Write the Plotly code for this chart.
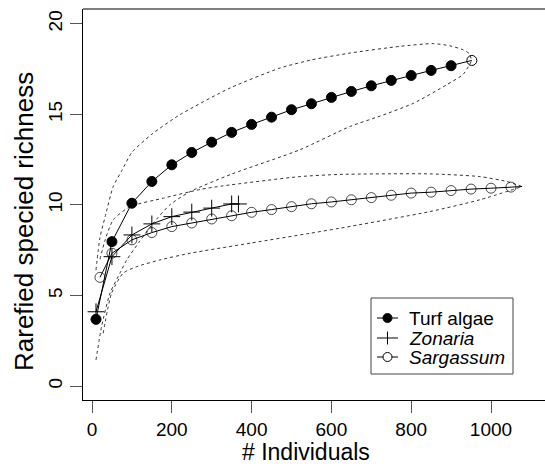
import plotly.graph_objects as go

# ---------------- data ----------------
turf_x = [10, 50, 100, 150, 200, 250, 300, 350, 400, 450, 500, 550, 600, 650, 700, 750, 800, 850, 900, 952]
turf_y = [3.68, 7.97, 10.09, 11.29, 12.21, 12.89, 13.46, 14.0, 14.44, 14.84, 15.25, 15.58, 15.93, 16.26,
          16.57, 16.87, 17.14, 17.42, 17.68, 17.97]

zon_x = [10, 50, 100, 150, 200, 250, 300, 350, 367]
zon_y = [4.1, 7.14, 8.34, 8.95, 9.35, 9.6, 9.82, 10.05, 10.05]

sar_x = [20, 50, 100, 150, 200, 250, 300, 350, 400, 450, 500, 550, 600, 650, 700, 750, 800, 850, 900,
         950, 1000, 1050, 1078]
sar_y = [6.0, 7.33, 8.07, 8.47, 8.8, 9.0, 9.22, 9.4, 9.59, 9.74, 9.9, 10.06, 10.16, 10.28, 10.4, 10.53,
         10.65, 10.7, 10.79, 10.87, 10.92, 10.98, 11.01]

turf_up_x = [10, 20, 33, 53, 75, 100, 150, 220, 346, 471, 550, 647, 772, 855, 897, 930, 945, 952]
turf_up_y = [6.4, 8.2, 9.35, 11.0, 11.9, 12.9, 13.9, 14.97, 16.45, 17.55, 18.0, 18.38, 18.75, 18.9, 18.78,
             18.56, 18.35, 17.97]
turf_lo_x = [10, 24, 45, 70, 87, 120, 150, 195, 246, 350, 521, 647, 722, 805, 889, 930, 952]
turf_lo_y = [1.44, 3.28, 5.12, 6.23, 6.96, 8.0, 8.9, 10.0, 10.73, 11.7, 13.04, 14.33, 14.9, 15.6, 16.63,
             17.2, 17.97]

sar_up_x = [20, 33, 53, 95, 179, 271, 329, 521, 621, 847, 972, 1039, 1078]
sar_up_y = [7.0, 8.07, 9.17, 9.9, 10.37, 10.85, 11.05, 11.56, 11.68, 11.71, 11.56, 11.29, 11.01]
sar_lo_x = [28, 49, 78, 112, 170, 246, 400, 546, 621, 847, 972, 1078]
sar_lo_y = [2.91, 5.12, 6.23, 6.59, 6.96, 7.33, 7.9, 8.43, 8.71, 9.63, 10.28, 11.01]

x_ticks = [0, 200, 400, 600, 800, 1000]
y_ticks = [0, 5, 10, 15, 20]
legend_labels = ["Turf algae", "<i>Zonaria</i>", "<i>Sargassum</i>"]
x_title = "# Individuals"
y_title = "Rarefied specied richness"

# ---------------- layout geometry ----------------
W, H = 545, 464
L, R, T, B = 83, 0, 9, 64
FONT = "Liberation Sans, Arial, Helvetica, sans-serif"

def pxx(px):
    return (px - L) / (W - L - R)

def pxy(py):
    return (H - B - py) / (H - B - T)

fig = go.Figure()

dot = dict(color="#333333", width=1, dash="3px,3px")
for ex, ey in [(turf_up_x, turf_up_y), (turf_lo_x, turf_lo_y), (sar_up_x, sar_up_y), (sar_lo_x, sar_lo_y)]:
    fig.add_trace(go.Scatter(x=ex, y=ey, mode="lines", line=dict(shape="spline", smoothing=0.6, **dot),
                             showlegend=False, hoverinfo="skip"))

fig.add_trace(go.Scatter(
    x=turf_x, y=turf_y, mode="lines+markers", showlegend=False,
    line=dict(color="black", width=1),
    marker=dict(symbol=["circle"] * (len(turf_x) - 1) + ["circle-open"], size=10, color="black",
                line=dict(color="black", width=1))))

fig.add_trace(go.Scatter(
    x=sar_x, y=sar_y, mode="lines+markers", showlegend=False,
    line=dict(color="black", width=1),
    marker=dict(symbol="circle-open", size=[10] * (len(sar_x) - 1) + [0], color="black",
                line=dict(color="black", width=1))))

fig.add_trace(go.Scatter(
    x=zon_x, y=zon_y, mode="lines+markers", showlegend=False,
    line=dict(color="black", width=1),
    marker=dict(symbol="cross-thin-open", size=12, color="black", line=dict(color="black", width=1))))

# ---------------- manual legend ----------------
shapes = []
annotations = []
shapes.append(dict(type="rect", xref="paper", yref="paper", x0=pxx(371), x1=pxx(513), y0=pxy(374), y1=pxy(298),
                   line=dict(color="#444444", width=1), fillcolor="white", layer="above"))
rows = [318, 338, 357]
for i, (lab, ry) in enumerate(zip(legend_labels, rows)):
    shapes.append(dict(type="line", xref="paper", yref="paper", x0=pxx(377), x1=pxx(398), y0=pxy(ry), y1=pxy(ry),
                       line=dict(color="black", width=1), layer="above"))
    cx = 387.5
    if i == 0:
        r = 4.5
        shapes.append(dict(type="circle", xref="paper", yref="paper", x0=pxx(cx - r), x1=pxx(cx + r),
                           y0=pxy(ry + r), y1=pxy(ry - r), fillcolor="black",
                           line=dict(color="black", width=1), layer="above"))
    elif i == 1:
        shapes.append(dict(type="line", xref="paper", yref="paper", x0=pxx(cx), x1=pxx(cx),
                           y0=pxy(ry + 6.5), y1=pxy(ry - 6.5), line=dict(color="black", width=1), layer="above"))
    else:
        r = 4.5
        shapes.append(dict(type="circle", xref="paper", yref="paper", x0=pxx(cx - r), x1=pxx(cx + r),
                           y0=pxy(ry + r), y1=pxy(ry - r), fillcolor="white",
                           line=dict(color="black", width=1), layer="above"))
    annotations.append(dict(xref="paper", yref="paper", x=pxx(407), y=pxy(ry), text=lab, showarrow=False,
                            xanchor="left", yanchor="middle", font=dict(size=19, color="black", family=FONT)))

# top frame line
shapes.append(dict(type="line", xref="paper", yref="paper", x0=0, x1=1, y0=1, y1=1,
                   line=dict(color="black", width=1)))

# axis titles
annotations.append(dict(xref="paper", yref="paper", x=pxx(306), y=pxy(452), text=x_title, showarrow=False,
                        xanchor="center", yanchor="middle", font=dict(size=23, color="black", family=FONT)))
annotations.append(dict(xref="paper", yref="paper", x=pxx(24), y=pxy(222), text=y_title, showarrow=False,
                        textangle=-90, xanchor="center", yanchor="middle",
                        font=dict(size=26, color="black", family=FONT)))

fig.update_layout(
    width=W, height=H, margin=dict(l=L, r=R, t=T, b=B, pad=0),
    paper_bgcolor="white", plot_bgcolor="white",
    font=dict(family=FONT, size=19, color="black"),
    shapes=shapes, annotations=annotations, showlegend=False,
    xaxis=dict(range=[(L - 92) / 0.399, (W - R - 92) / 0.399], tickvals=x_ticks, ticks="outside", ticklen=12,
               tickcolor="#555555", tickwidth=1, showline=True, linecolor="black", linewidth=1,
               showgrid=False, zeroline=False, tickfont=dict(size=19, family=FONT, color="black")),
    yaxis=dict(range=[-0.77, 20.81], tickvals=y_ticks, ticks="outside", ticklen=12, tickcolor="#555555",
               tickwidth=1, showline=True, linecolor="black", linewidth=1, showgrid=False, zeroline=False,
               tickangle=-90, tickfont=dict(size=19, family=FONT, color="black")),
)

fig.write_html("out.html", config={"displayModeBar": False},
               post_script="document.body.style.margin='0px';document.body.style.overflow='hidden';")
